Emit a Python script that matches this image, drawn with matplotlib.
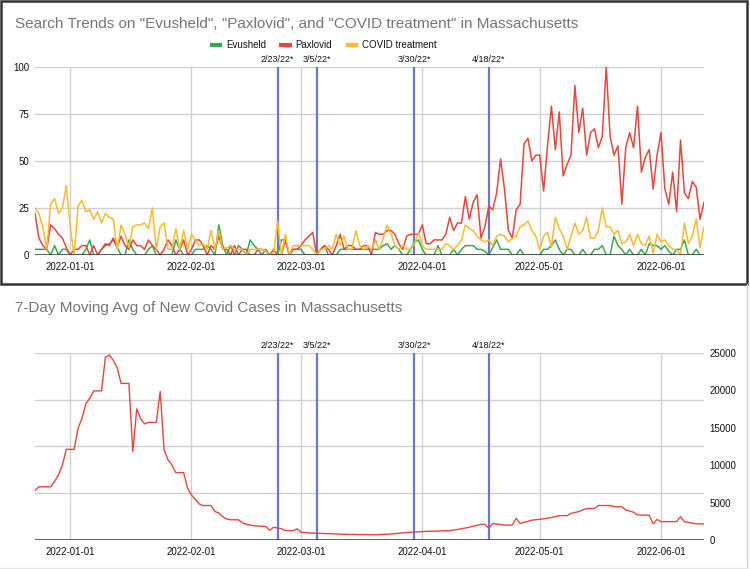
import matplotlib
matplotlib.use("Agg")
import matplotlib.pyplot as plt
import matplotlib.dates as mdates
from matplotlib.patches import Rectangle
from matplotlib.lines import Line2D
import numpy as np
import pandas as pd

plt.rcParams['font.family'] = ['Liberation Sans', 'DejaVu Sans']

# daily search interest, starting 2021-12-23
start_date = '2021-12-23'
evusheld = [
    3, 3, 3, 3, 0, 5, 0, 3, 3, 0,
    0, 0, 0, 3, 8, 0, 0, 3, 5, 6,
    8, 4, 0, 0, 8, 3, 0, 0, 0, 3,
    5, 0, 0, 0, 0, 0, 8, 3, 0, 0,
    0, 3, 3, 3, 5, 3, 0, 16, 5, 0,
    5, 0, 5, 3, 0, 8, 5, 3, 0, 3,
    0, 0, 0, 8, 8, 0, 3, 3, 3, 0,
    0, 0, 0, 3, 5, 0, 0, 0, 3, 3,
    3, 3, 3, 3, 3, 3, 3, 3, 3, 5,
    6, 3, 5, 3, 0, 0, 3, 7, 8, 3,
    0, 0, 0, 5, 0, 0, 0, 3, 0, 3,
    5, 5, 5, 3, 3, 2, 0, 4, 8, 3,
    3, 3, 0, 0, 3, 0, 0, 0, 0, 0,
    3, 3, 5, 8, 3, 0, 3, 3, 0, 0,
    3, 0, 0, 3, 3, 5, 0, 0, 10, 5,
    3, 0, 3, 0, 0, 3, 0, 6, 5, 5,
    3, 5, 2, 0, 3, 3, 8, 0, 0, 3,
    0, 0,
]
paxlovid = [
    22, 9, 5, 3, 16, 14, 11, 9, 4, 0,
    3, 3, 5, 5, 0, 5, 0, 3, 6, 5,
    9, 4, 10, 5, 3, 8, 5, 5, 3, 8,
    5, 3, 0, 3, 8, 5, 0, 3, 8, 0,
    3, 8, 8, 5, 0, 5, 3, 10, 3, 3,
    0, 5, 0, 3, 3, 0, 0, 3, 3, 2,
    0, 3, 0, 0, 8, 0, 3, 3, 5, 8,
    10, 12, 0, 3, 5, 3, 0, 5, 11, 3,
    5, 5, 3, 3, 5, 5, 0, 12, 11, 11,
    13, 13, 11, 6, 3, 10, 11, 11, 11, 16,
    6, 6, 8, 8, 8, 11, 20, 13, 17, 17,
    31, 19, 28, 32, 9, 15, 26, 24, 33, 51,
    35, 13, 9, 24, 27, 59, 62, 50, 53, 53,
    34, 58, 79, 56, 76, 42, 48, 53, 90, 65,
    78, 53, 65, 67, 57, 63, 100, 63, 53, 58,
    27, 57, 65, 57, 79, 44, 52, 56, 35, 53,
    65, 35, 27, 44, 23, 61, 33, 30, 39, 36,
    19, 28,
]
covid_treatment = [
    25, 22, 15, 3, 27, 30, 22, 25, 37, 15,
    0, 26, 29, 23, 24, 19, 23, 17, 22, 20,
    19, 3, 16, 11, 4, 15, 16, 16, 17, 14,
    25, 3, 15, 17, 3, 3, 14, 3, 13, 3,
    11, 8, 5, 6, 3, 13, 3, 13, 3, 4,
    5, 3, 3, 3, 0, 3, 3, 3, 3, 2,
    0, 1, 18, 0, 11, 0, 5, 5, 5, 5,
    5, 3, 0, 3, 3, 5, 3, 11, 5, 10,
    3, 3, 13, 5, 3, 5, 3, 8, 3, 9,
    16, 11, 5, 3, 5, 3, 3, 6, 12, 5,
    3, 3, 3, 3, 3, 6, 5, 3, 5, 8,
    16, 14, 13, 10, 8, 7, 8, 5, 10, 11,
    10, 7, 9, 10, 15, 16, 18, 13, 10, 3,
    10, 12, 4, 20, 14, 10, 3, 10, 17, 11,
    13, 20, 9, 9, 13, 25, 15, 15, 11, 13,
    6, 7, 11, 5, 11, 6, 5, 10, 1, 11,
    7, 8, 5, 3, 3, 0, 17, 6, 10, 19,
    4, 15,
]

# 7-day moving average of new cases
case_dates = [
    '2021-12-23', '2021-12-24', '2021-12-27', '2021-12-28', '2021-12-29',
    '2021-12-30', '2021-12-31', '2022-01-02', '2022-01-03', '2022-01-04',
    '2022-01-05', '2022-01-06', '2022-01-07', '2022-01-09', '2022-01-10',
    '2022-01-11', '2022-01-12', '2022-01-13', '2022-01-14', '2022-01-16',
    '2022-01-17', '2022-01-18', '2022-01-19', '2022-01-20', '2022-01-21',
    '2022-01-23', '2022-01-24', '2022-01-25', '2022-01-26', '2022-01-27',
    '2022-01-28', '2022-01-30', '2022-01-31', '2022-02-01', '2022-02-02',
    '2022-02-03', '2022-02-04', '2022-02-06', '2022-02-07', '2022-02-08',
    '2022-02-09', '2022-02-10', '2022-02-11', '2022-02-13', '2022-02-14',
    '2022-02-15', '2022-02-16', '2022-02-17', '2022-02-20', '2022-02-21',
    '2022-02-22', '2022-02-23', '2022-02-24', '2022-02-25', '2022-02-27',
    '2022-02-28', '2022-03-01', '2022-03-03', '2022-03-05', '2022-03-13',
    '2022-03-20', '2022-03-24', '2022-03-28', '2022-04-02', '2022-04-08',
    '2022-04-10', '2022-04-13', '2022-04-16', '2022-04-17', '2022-04-18',
    '2022-04-19', '2022-04-22', '2022-04-24', '2022-04-25', '2022-04-26',
    '2022-04-29', '2022-05-01', '2022-05-04', '2022-05-06', '2022-05-08',
    '2022-05-09', '2022-05-11', '2022-05-13', '2022-05-15', '2022-05-16',
    '2022-05-19', '2022-05-20', '2022-05-22', '2022-05-23', '2022-05-25',
    '2022-05-26', '2022-05-29', '2022-05-30', '2022-05-31', '2022-06-01',
    '2022-06-05', '2022-06-06', '2022-06-07', '2022-06-08', '2022-06-10',
    '2022-06-12',
]
case_values = [
    6600, 7100, 7100, 7800, 8700,
    10000, 12100, 12100, 14900, 16200,
    18200, 18900, 19900, 19900, 24400,
    24700, 24000, 23000, 20900, 20900,
    11800, 17500, 16200, 15500, 15700,
    15700, 19800, 12000, 10700, 10000,
    9000, 9000, 6900, 6000, 5400,
    4800, 4600, 4600, 3800, 3600,
    3100, 2800, 2700, 2700, 2300,
    2100, 2000, 1900, 1800, 1300,
    1700, 1600, 1500, 1250, 1250,
    1500, 1050, 950, 900, 750,
    700, 800, 1000, 1150, 1250,
    1400, 1700, 2100, 2100, 1550,
    2200, 2000, 2000, 2900, 2200,
    2650, 2750, 3000, 3250, 3250,
    3550, 3800, 4200, 4200, 4600,
    4600, 4450, 4450, 4000, 3700,
    3350, 3300, 2150, 2750, 2450,
    2450, 3100, 2450, 2350, 2150,
    2150,
]

event_dates = ['2022-02-23', '2022-03-05', '2022-03-30', '2022-04-18']
event_labels = ['2/23/22*', '3/5/22*', '3/30/22*', '4/18/22*']
month_ticks = ['2022-01-01', '2022-02-01', '2022-03-01', '2022-04-01', '2022-05-01', '2022-06-01']

days = pd.date_range(start_date, periods=len(paxlovid), freq='D')
x_end = days[-1]
events = pd.to_datetime(event_dates)
months = pd.to_datetime(month_ticks)

GRID = '#d0d0d0'
EVENT = '#6b78c8'
TXT = '#111111'
TITLE = '#757575'

fig = plt.figure(figsize=(7.5, 5.69), dpi=100)

def px(x0, y0, x1, y1):
    W, H = 750, 569
    return [x0 / W, 1 - y1 / H, (x1 - x0) / W, (y1 - y0) / H]

def style_dates(ax):
    ax.set_xlim(days[0], x_end)
    ax.set_xticks(months)
    ax.xaxis.set_major_formatter(mdates.DateFormatter('%Y-%m-%d'))
    ax.grid(axis='x', color=GRID, lw=1.0, zorder=0)
    ax.tick_params(axis='x', length=0, pad=5, labelsize=7, labelcolor=TXT)
    for s in ax.spines.values():
        s.set_visible(False)
    for d, lab in zip(events, event_labels):
        ax.axvline(d, color=EVENT, lw=1.6, zorder=3)
        ax.text(d, 1.012, lab, transform=ax.get_xaxis_transform(), ha='center',
                va='bottom', fontsize=6.5, color=TXT)

# top panel: search trends
ax1 = fig.add_axes(px(35, 66.7, 704, 255))
ax1.plot(days, evusheld, color='#3aa757', lw=1.1, label='Evusheld', zorder=4)
ax1.plot(days, paxlovid, color='#e8453c', lw=1.1, label='Paxlovid', zorder=4)
ax1.plot(days, covid_treatment, color='#f9bb2d', lw=1.1, label='COVID treatment', zorder=4)
ax1.set_ylim(0, 100)
ax1.set_yticks([0, 25, 50, 75, 100])
ax1.grid(axis='y', color=GRID, lw=1.0, zorder=0)
ax1.tick_params(axis='y', length=0, pad=4, labelsize=7, labelcolor=TXT)
style_dates(ax1)
ax1.axhline(0, color='#444444', lw=1.2, zorder=5)
fig.legend(handles=[Line2D([], [], color='#3aa757', lw=3),
                    Line2D([], [], color='#e8453c', lw=3),
                    Line2D([], [], color='#f9bb2d', lw=3)],
           labels=['Evusheld', 'Paxlovid', 'COVID treatment'],
           loc='center', bbox_to_anchor=(324 / 750, 1 - 45 / 569), ncol=3,
           frameon=False, fontsize=7, handlelength=0.85, handletextpad=0.6,
           columnspacing=1.6, labelcolor=TXT)
fig.text(15 / 750, 1 - 24 / 569,
         'Search Trends on "Evusheld", "Paxlovid", and "COVID treatment" in Massachusetts',
         fontsize=11, color=TITLE, va='center', ha='left')

# bottom panel: cases
ax2 = fig.add_axes(px(35, 352.7, 704, 540))
ax2.plot(pd.to_datetime(case_dates), case_values, color='#e8453c', lw=1.0, zorder=4)
ax2.set_ylim(0, 25000)
for g in np.linspace(0, 25000, 5)[1:]:
    ax2.axhline(g, color=GRID, lw=1.0, zorder=0)
ax2.yaxis.tick_right()
ax2.set_yticks([0, 5000, 10000, 15000, 20000, 25000])
ax2.tick_params(axis='y', length=0, pad=4, labelsize=7, labelcolor=TXT)
style_dates(ax2)
ax2.axhline(0, color='#444444', lw=1.2, zorder=5)
fig.text(15 / 750, 1 - 308 / 569, '7-Day Moving Avg of New Covid Cases in Massachusetts',
         fontsize=11, color=TITLE, va='center', ha='left')

# panel frames
fig.add_artist(Rectangle((1 / 750, 1 - 284 / 569), 745.5 / 750, 283 / 569,
                         transform=fig.transFigure, fill=False, ec='#333333', lw=1.8))
fig.add_artist(Line2D([746.5 / 750, 746.5 / 750], [1 - 284 / 569, 1 - 568 / 569],
                      transform=fig.transFigure, color='#cfcfcf', lw=1.0))
fig.add_artist(Line2D([0, 746.5 / 750], [1 - 568 / 569, 1 - 568 / 569],
                      transform=fig.transFigure, color='#e6e6e6', lw=1.0))

fig.savefig('out.png', dpi=100)
